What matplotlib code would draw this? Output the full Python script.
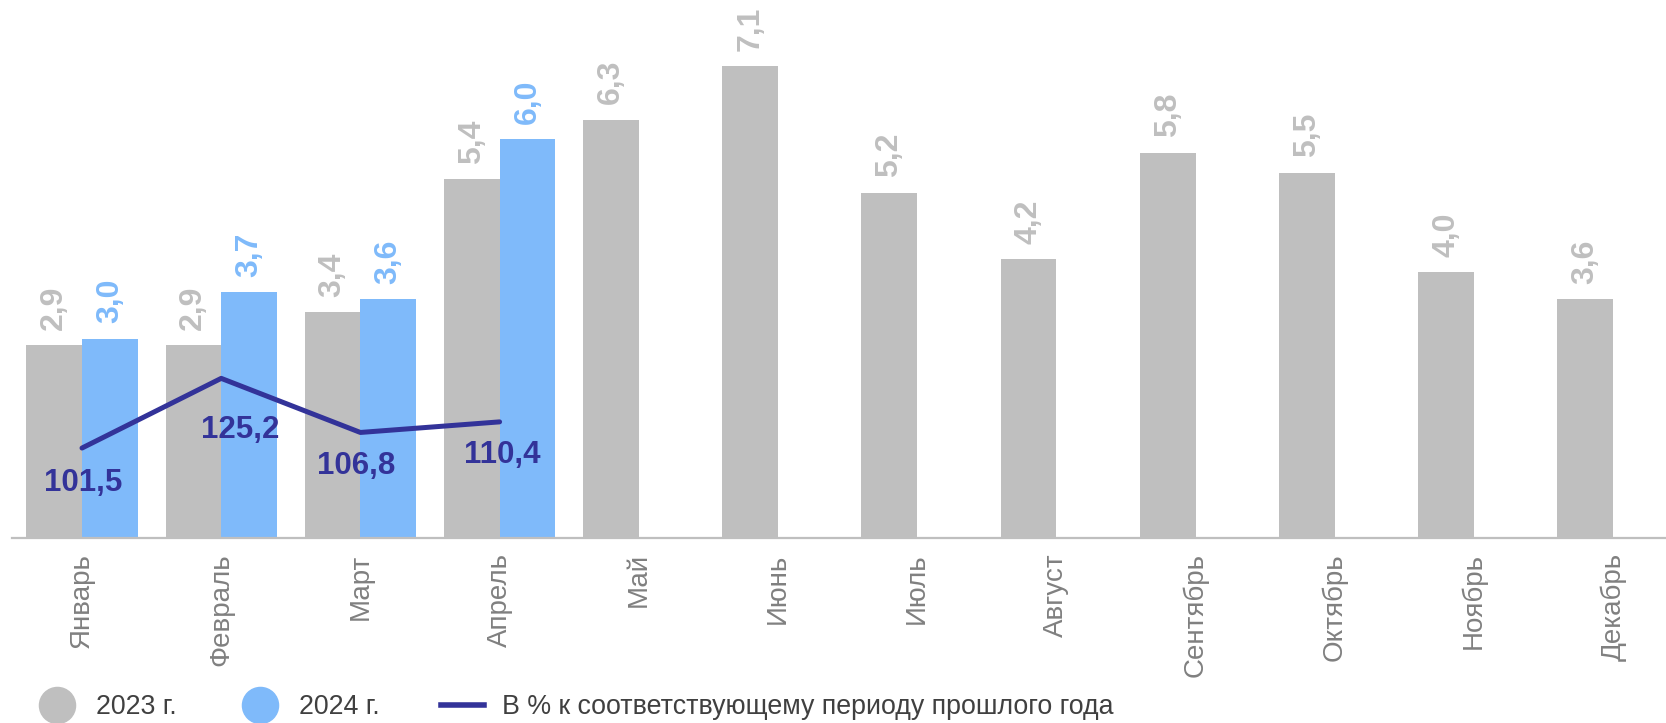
import matplotlib.pyplot as plt
from matplotlib.lines import Line2D

# data
months = ['Январь', 'Февраль', 'Март', 'Апрель', 'Май', 'Июнь', 'Июль',
          'Август', 'Сентябрь', 'Октябрь', 'Ноябрь', 'Декабрь']
vals_2023 = [2.9, 2.9, 3.4, 5.4, 6.3, 7.1, 5.2, 4.2, 5.8, 5.5, 4.0, 3.6]
vals_2024 = [3.0, 3.7, 3.6, 6.0]
pct_prev = [101.5, 125.2, 106.8, 110.4]

GRAY = '#BFBFBF'
BLUE = '#7FBAFA'
NAVY = '#333399'

plt.rcParams['font.family'] = ['Liberation Sans', 'DejaVu Sans']

W, H = 1666, 723
fig = plt.figure(figsize=(W / 100, H / 100), dpi=100)
ax = fig.add_axes([12 / W, (H - 538) / H, (W - 12) / W, 538 / H])

x23 = list(range(len(months)))
x24 = list(range(len(vals_2024)))
bw = 0.4
ax.bar([x - bw / 2 for x in x23], vals_2023, width=bw, color=GRAY, zorder=2)
ax.bar([x + bw / 2 for x in x24], vals_2024, width=bw, color=BLUE, zorder=2)

for x, v in zip(x23, vals_2023):
    ax.annotate(f'{v:.1f}'.replace('.', ','), (x - bw / 2, v), xytext=(0, 11),
                textcoords='offset points', rotation=90, ha='center', va='bottom',
                fontsize=23, fontweight='bold', color=GRAY)
for x, v in zip(x24, vals_2024):
    ax.annotate(f'{v:.1f}'.replace('.', ','), (x + bw / 2, v), xytext=(0, 11),
                textcoords='offset points', rotation=90, ha='center', va='bottom',
                fontsize=23, fontweight='bold', color=BLUE)

ax.set_xlim(-0.503, 11.38)
ax.set_ylim(0, 8.1)
ax.set_xticks(x23)
ax.set_xticklabels(months, rotation=90, fontsize=20, color='#808080')
ax.tick_params(axis='x', length=0, pad=11)
ax.set_yticks([])
for s in ['top', 'right', 'left']:
    ax.spines[s].set_visible(False)
ax.spines['bottom'].set_color(GRAY)
ax.spines['bottom'].set_linewidth(1.6)

# line on secondary axis
ax2 = ax.twinx()
ax2.plot(x24, pct_prev, color=NAVY, lw=3.6, solid_capstyle='round', zorder=3)
ax2.set_ylim(70.9, 253.9)
ax2.axis('off')
label_offsets = [(1, -25), (14, -37), (-3, -24), (2, -24)]
for x, v, off in zip(x24, pct_prev, label_offsets):
    ax2.annotate(f'{v:.1f}'.replace('.', ','), (x, v), xytext=off,
                 textcoords='offset points', ha='center', va='center',
                 fontsize=22.5, fontweight='bold', color=NAVY)

handles = [
    Line2D([], [], ls='none', marker='o', markersize=26, color=GRAY),
    Line2D([], [], ls='none', marker='o', markersize=26, color=BLUE),
    Line2D([], [], color=NAVY, lw=4),
]
fig.legend(handles, ['2023 г.', '2024 г.', 'В % к соответствующему периоду прошлого года'],
           loc='center left', bbox_to_anchor=(36 / W, 1 - 707 / H), ncol=3,
           frameon=False, fontsize=19.3, handlelength=1.6, handletextpad=0.65,
           columnspacing=2.3, borderpad=0, borderaxespad=0, labelcolor='#404040')

fig.savefig('out.png', dpi=100)
